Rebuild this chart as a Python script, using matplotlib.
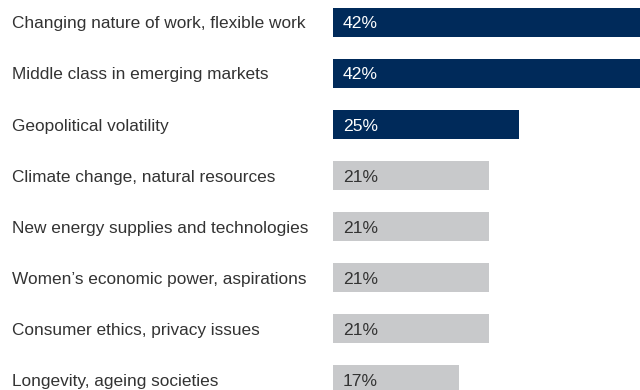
import matplotlib.pyplot as plt
from matplotlib.transforms import blended_transform_factory

categories = [
    "Changing nature of work, flexible work",
    "Middle class in emerging markets",
    "Geopolitical volatility",
    "Climate change, natural resources",
    "New energy supplies and technologies",
    "Women\u2019s economic power, aspirations",
    "Consumer ethics, privacy issues",
    "Longevity, ageing societies",
]
values = [42, 42, 25, 21, 21, 21, 21, 17]
highlight = [True, True, True, False, False, False, False, False]

NAVY = "#002a5a"
GREY = "#c8c9cb"
TEXT = "#333333"

plt.rcParams["font.family"] = ["Liberation Sans", "DejaVu Sans"]

fig = plt.figure(figsize=(6.4, 3.9), dpi=100)
# 0 % sits at x=333 px, 7.44 px per percentage point
ax = fig.add_axes([333 / 640, 0, 1 - 333 / 640, 1])
ax.set_xlim(0, (640 - 333) / 7.44)
ax.set_ylim((390 - 22.3) / 51.1, -22.3 / 51.1)
ax.axis("off")

ypos = list(range(len(categories)))
colors = [NAVY if h else GREY for h in highlight]
ax.barh(ypos, values, height=0.57, color=colors)

label_tf = blended_transform_factory(fig.transFigure, ax.transData)
for y, cat, v, h in zip(ypos, categories, values, highlight):
    ax.text(1.3, y, f"{v}%", va="center_baseline", ha="left", fontsize=12.6,
            color="white" if h else TEXT)
    fig.text(12 / 640, y, cat, transform=label_tf, fontsize=12.4,
             color=TEXT, va="center_baseline", ha="left")

fig.savefig("out.png", dpi=100)
